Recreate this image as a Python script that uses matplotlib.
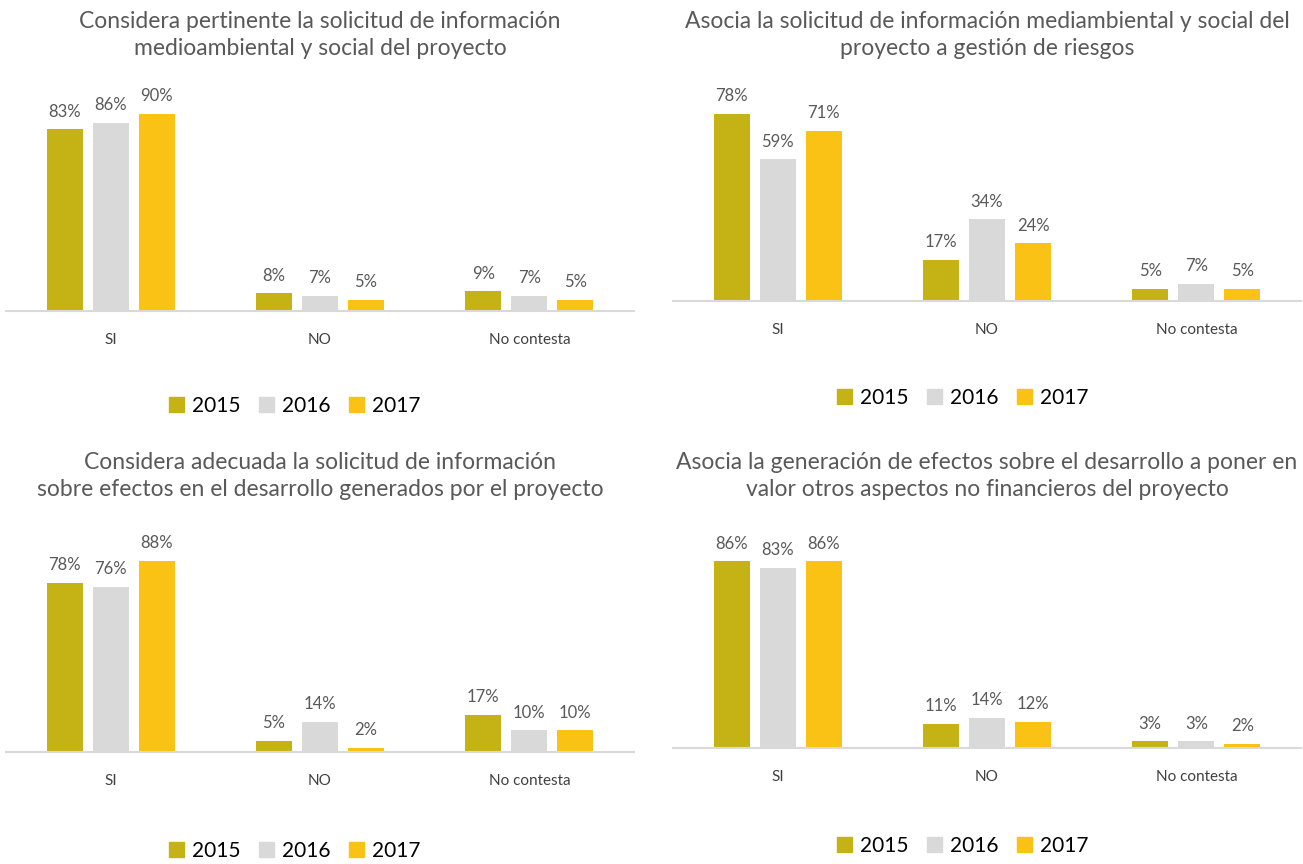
import matplotlib
matplotlib.use("Agg")
import matplotlib.pyplot as plt
from matplotlib.patches import Patch

plt.rcParams['font.family'] = ['Lato', 'DejaVu Sans']

# data
categories = ['SI', 'NO', 'No contesta']
years = ['2015', '2016', '2017']

titles = [
    'Considera pertinente la solicitud de información\nmedioambiental y social del proyecto',
    'Asocia la solicitud de información mediambiental y social del\nproyecto a gestión de riesgos',
    'Considera adecuada la solicitud de información\nsobre efectos en el desarrollo generados por el proyecto',
    'Asocia la generación de efectos sobre el desarrollo a poner en\nvalor otros aspectos no financieros del proyecto',
]

# values per panel: rows = years, cols = categories
pertinente = [[83, 8, 9], [86, 7, 7], [90, 5, 5]]
riesgos = [[78, 17, 5], [59, 34, 7], [71, 24, 5]]
adecuada = [[78, 5, 17], [76, 14, 10], [88, 2, 10]]
no_financieros = [[86, 11, 3], [83, 14, 3], [86, 12, 2]]

colors = ['#C5B315', '#D9D9D9', '#F9C214']

W, H = 1303, 864
fig = plt.figure(figsize=(W / 100, H / 100), dpi=100)


def rect(left, right, base, top):
    return [left / W, 1 - base / H, (right - left) / W, (base - top) / H]


# panel layout in pixels
panels = [
    (pertinente, titles[0], (6, 634, 311, 92), 100, 35, 295, 406),
    (riesgos, titles[1], (673, 1301, 301, 85), 90, 35, 963, 398),
    (adecuada, titles[2], (6, 634, 752, 535), 100, 476, 295, 851),
    (no_financieros, titles[3], (673, 1301, 748, 531), 100, 476, 963, 846),
]

width = 0.172
step = 0.22

for vals, title, box, ymax, ty, lx, ly in panels:
    ax = fig.add_axes(rect(*box))
    for i, yr in enumerate(years):
        xs = [c + (i - 1) * step for c in range(len(categories))]
        ax.bar(xs, vals[i], width=width, color=colors[i], label=yr)
        for x, v in zip(xs, vals[i]):
            ax.annotate('%d%%' % v, (x, v), xytext=(0, 7), textcoords='offset points',
                        ha='center', va='bottom', fontsize=12, color='#595959')
    ax.set_xlim(-0.5, 2.5)
    ax.set_ylim(0, ymax)
    ax.set_xticks(range(len(categories)))
    ax.set_xticklabels(categories, fontsize=11, color='#404040')
    ax.tick_params(axis='x', length=0, pad=16)
    ax.set_yticks([])
    for s in ['top', 'right', 'left']:
        ax.spines[s].set_visible(False)
    ax.spines['bottom'].set_color('#D9D9D9')
    ax.spines['bottom'].set_linewidth(1.5)

    cx = (box[0] + box[1]) / 2
    fig.text(cx / W, 1 - ty / H, title, ha='center', va='center',
             fontsize=16.5, color='#595959', linespacing=1.3)

    handles = [Patch(color=colors[i], label=years[i]) for i in range(3)]
    fig.legend(handles=handles, loc='center', bbox_to_anchor=(lx / W, 1 - ly / H),
               ncol=3, frameon=False, fontsize=15, handlelength=0.7,
               handleheight=0.7, handletextpad=0.4, columnspacing=0.9,
               labelcolor='#000000')

fig.savefig('out.png', dpi=100)
